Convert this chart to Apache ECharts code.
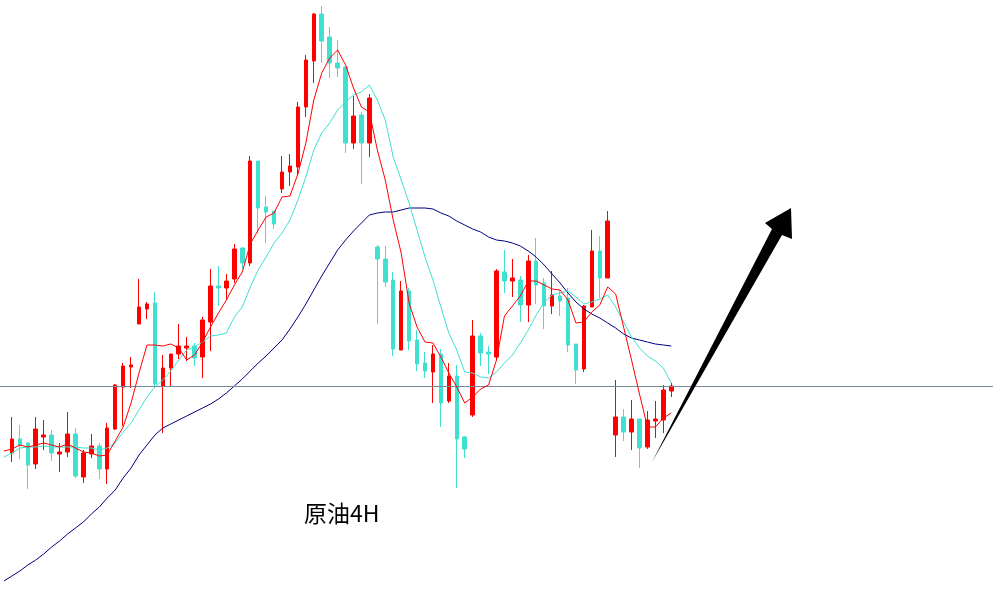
<!DOCTYPE html>
<html>
<head>
<meta charset="utf-8">
<script src="https://cdn.jsdelivr.net/npm/echarts@6/dist/echarts.min.js"></script>
<style>
html,body{margin:0;padding:0;background:#fff;}
#c{width:993px;height:610px;}
</style>
</head>
<body>
<div id="c"></div>
<script>
// 4H bars (values in chart units; index 0 is a bar just left of the visible area)
const categories = Array.from({length: 125}, (_, i) => 'K' + i);

const opens = [157,171,167,146,173,175,156,158,176,133,156,164,141,181,223,243,286,301,307,224,
242,256,262,264,253,288,324,322,331,362,347,449,403,399,421,438,443,503,549,596,
573,547,543,467,495,467,363,351,330,260,319,270,247,238,256,209,234,173,195,274,
258,253,338,329,330,305,349,327,304,314,312,266,241,303,359,332,175,193,178,191,
163,189,190,219];
const closes = [171,165,145,181,175,157,158,176,134,157,164,141,182,225,244,245,303,306,226,242,
256,264,264,252,290,324,322,329,361,347,449,402,398,386,438,444,503,550,596,569,
547,542,467,494,467,512,351,328,261,319,269,246,239,256,207,234,171,161,274,257,
256,339,329,332,305,349,325,304,315,309,265,240,304,359,332,389,193,178,191,162,
190,191,220,224];
const lows = [148,151,121,141,160,149,138,153,132,127,152,131,126,180,184,222,286,291,223,177,
224,251,249,244,232,259,304,311,327,341,344,377,367,381,417,424,435,493,527,547,
532,533,457,461,426,453,286,323,254,260,260,239,232,207,183,207,122,152,193,244,
236,250,317,313,288,288,306,281,296,294,258,226,238,303,312,332,153,169,160,142,
161,172,177,213];
const highs = [193,185,168,193,190,180,167,198,182,160,176,167,187,226,247,253,331,308,318,255,
256,286,273,267,293,341,344,336,366,363,454,449,414,399,454,456,508,555,597,604,
583,570,543,514,498,516,365,364,338,329,322,280,258,265,261,247,245,174,290,277,
264,341,360,351,334,355,372,332,339,320,322,266,305,380,374,399,230,201,210,191,
199,209,225,227];

const maFast = [159,161,165,163,165,167,165,163,166,162,158,157,154,155,169,183,207,237,265,265,264,
266,262,250,255,268,283,297,310,325,338,366,380,393,397,413,414,436,467,510,537,
552,560,545,522,503,498,460,430,390,357,307,283,268,267,253,237,223,207,213,221,
225,250,294,304,314,329,329,325,321,320,310,287,288,298,305,323,316,283,250,216,
183,183,192,197];
const maMid = [153,157,162,163,163,164,163,163,163,163,162,162,160,162,167,178,187,200,213,223,230,
239,250,260,263,268,274,275,277,293,303,323,340,353,367,377,390,410,433,460,477,
487,500,508,515,518,525,510,490,453,430,407,380,353,330,303,277,260,238,237,233,
232,238,247,255,267,280,295,308,315,317,319,313,306,308,311,315,303,288,273,262,
254,249,242,227];
const maSlow = [29,34,39,45,50,56,63,69,76,82,88,96,103,112,120,132,142,155,165,175,182,
186,190,194,198,202,206,211,217,224,231,239,247,254,262,270,281,293,306,320,334,
347,360,370,379,387,395,397,398,398,400,402,402,402,401,397,394,389,385,381,378,
373,370,369,367,364,359,353,345,336,327,317,308,301,296,292,287,282,276,272,270,
268,266,265,264];

const levelLine = 224;
const chartTitle = '原油4H';

const candleData = ['-'].concat(opens.map((o, i) => [o, closes[i], lows[i], highs[i]]));

const chart = echarts.init(document.getElementById('c'), null, {renderer: 'canvas'});
chart.setOption({
  backgroundColor: '#ffffff',
  animation: false,
  title: {
    text: chartTitle, left: 304, top: 502, padding: 0,
    textStyle: {fontSize: 23, fontWeight: 'normal', color: '#000', fontFamily: '"Noto Sans CJK SC", sans-serif'}
  },
  grid: {left: -7, top: 0, width: 1000, height: 610, containLabel: false},
  xAxis: {type: 'category', data: categories, boundaryGap: true, show: false},
  yAxis: {type: 'value', min: 0, max: 610, show: false, splitLine: {show: false}},
  series: [
    {
      type: 'candlestick', data: candleData, barWidth: 4, z: 3,
      itemStyle: {color: '#FF0000', color0: '#40E0D0', borderColor: '#FF0000', borderColor0: '#40E0D0', borderWidth: 1},
      markLine: {
        silent: true, symbol: 'none', label: {show: false},
        lineStyle: {color: '#778899', width: 1, type: 'solid'},
        data: [{yAxis: levelLine}]
      }
    },
    {type: 'line', data: maSlow, showSymbol: false, symbol: 'none', lineStyle: {color: '#000080', width: 1}, z: 4},
    {type: 'line', data: maMid, showSymbol: false, symbol: 'none', lineStyle: {color: '#40E0D0', width: 1}, z: 4},
    {type: 'line', data: maFast, showSymbol: false, symbol: 'none', lineStyle: {color: '#FF0000', width: 1}, z: 5}
  ],
  graphic: [{
    type: 'polygon', z: 10,
    shape: {points: [[652,462],[782,235],[792,239],[791,208],[765,223],[772,229]]},
    style: {fill: '#000'}
  }]
});
</script>
</body>
</html>
